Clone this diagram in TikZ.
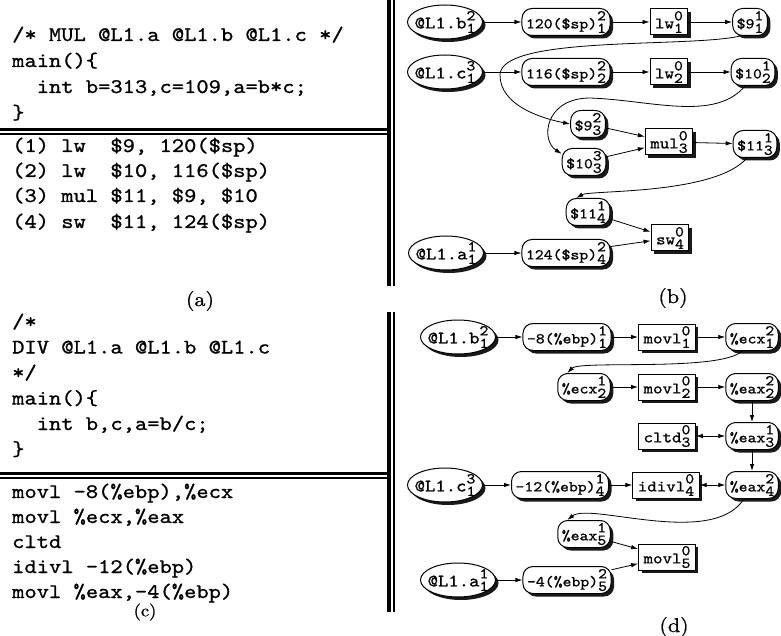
\documentclass[tikz,border=0pt]{standalone}
\usepackage{fontspec}
\newfontfamily\codefont[FakeStretch=1.13,FakeBold=1.0]{lmmono10-regular.otf}
\newfontfamily\capfont[FakeStretch=1.1,FakeBold=0.8]{lmroman10-regular.otf}
\usetikzlibrary{shapes.geometric,shadows,arrows.meta}
\newcommand\supf{\codefont\fontsize{15}{15}\selectfont}
\newcommand\lab[3]{#1\makebox[0pt][l]{\raisebox{8pt}{\supf #2}}\raisebox{-4.5pt}{\supf #3}}
\newcommand\el[3]{\makebox[0pt]{\lab{#1}{#2}{#3}}}
\tikzset{
  shd/.style={drop shadow={shadow xshift=3pt, shadow yshift=-3pt, fill=black, opacity=0.9}},
  ell/.style={ellipse, draw, fill=white, line width=1pt, minimum width=75pt, minimum height=34pt, inner sep=0pt, shd, font=\codefont\fontsize{17.5}{17.5}\selectfont},
  rnd/.style={rectangle, rounded corners=10pt, draw, fill=white, line width=1pt, inner xsep=4pt, inner ysep=1pt, minimum height=27pt, shd, font=\codefont\fontsize{15}{15}\selectfont},
  sqbox/.style={rectangle, draw, fill=white, line width=1pt, inner xsep=5pt, inner ysep=1pt, minimum height=26pt, shd, font=\codefont\fontsize{16}{16}\selectfont},
  codeline/.style={anchor=base west, inner sep=0pt, font=\codefont\fontsize{20.7}{25}\selectfont},
  captxt/.style={inner sep=0pt, font=\capfont\fontsize{20}{20}\selectfont},
  arr/.style={-{Latex[length=7pt,width=4.5pt]}, line width=0.8pt},
  darr/.style={{Latex[length=7pt,width=4.5pt]}-{Latex[length=7pt,width=4.5pt]}, line width=0.8pt},
}
\begin{document}
\begin{tikzpicture}[x=1pt,y=-1pt]
\useasboundingbox (0,0) rectangle (781,636);
% separators
\draw[line width=4pt] (389,0) -- (389,286);
\draw[line width=2pt] (393.5,0) -- (393.5,286);
\draw[line width=4pt] (389,312) -- (389,612);
\draw[line width=2pt] (393.5,312) -- (393.5,612);
\draw[line width=3pt] (0,129.5) -- (388,129.5);
\draw[line width=2pt] (0,134) -- (388,134);
\draw[line width=3pt] (0,473) -- (388,473);
\draw[line width=2pt] (0,477.5) -- (388,477.5);
% (a)
\node[codeline] (a1) at (12,41) {/* MUL @L1.a @L1.b @L1.c */};
\node[codeline] (a2) at (12,67) {main()\{};
\node[codeline] (a3) at (12,93) {\ \ int b=313,c=109,a=b*c;};
\node[codeline] (a4) at (12,119) {\}};
\node[codeline] (a5) at (12,152) {(1) lw\ \ \$9, 120(\$sp)};
\node[codeline] (a6) at (12,177) {(2) lw\ \ \$10, 116(\$sp)};
\node[codeline] (a7) at (12,202) {(3) mul \$11, \$9, \$10};
\node[codeline] (a8) at (12,228) {(4) sw\ \ \$11, 124(\$sp)};
\node[captxt] (capa) at (200,301) {(a)};
% (c)
\node[codeline] (c1) at (12,328) {/*};
\node[codeline] (c2) at (12,353.5) {DIV @L1.a @L1.b @L1.c};
\node[codeline] (c3) at (12,379) {*/};
\node[codeline] (c4) at (12,404.5) {main()\{};
\node[codeline] (c5) at (12,430) {\ \ int b,c,a=b/c;};
\node[codeline] (c6) at (12,455.5) {\}};
\node[codeline] (c7) at (12,498) {movl -8(\%ebp),\%ecx};
\node[codeline] (c8) at (12,523) {movl \%ecx,\%eax};
\node[codeline] (c9) at (12,548) {cltd};
\node[codeline] (c10) at (12,573) {idivl -12(\%ebp)};
\node[codeline] (c11) at (12,598) {movl \%eax,-4(\%ebp)};
\node[captxt, font=\capfont\fontsize{17}{17}\selectfont] (capc) at (145,612) {(c)};
% (b)
\node[ell] (b1) at (445,22) {\el{@L1.b}{2}{1}};
\node[rnd] (r120) at (566,22) {\lab{120(\$sp)}{2}{1}};
\node[sqbox] (lw1) at (669,22) {\lab{lw}{0}{1}};
\node[rnd] (s9a) at (750,22) {\lab{\$9}{1}{1}};
\node[ell] (c1n) at (445,72) {\el{@L1.c}{3}{1}};
\node[rnd] (r116) at (566,72) {\lab{116(\$sp)}{2}{2}};
\node[sqbox] (lw2) at (669,72) {\lab{lw}{0}{2}};
\node[rnd] (s10a) at (753,72) {\lab{\$10}{1}{2}};
\node[rnd] (s9b) at (588,124) {\lab{\$9}{2}{3}};
\node[sqbox] (mul) at (669,142) {\lab{mul}{0}{3}};
\node[rnd] (s11a) at (755,144) {\lab{\$11}{1}{3}};
\node[rnd] (s10b) at (584,162) {\lab{\$10}{3}{3}};
\node[rnd] (s11b) at (588,212) {\lab{\$11}{1}{4}};
\node[sqbox] (sw) at (670,238) {\lab{sw}{0}{4}};
\node[ell] (a1n) at (446,253) {\el{@L1.a}{1}{1}};
\node[rnd] (r124) at (566,253) {\lab{124(\$sp)}{2}{4}};
\node[captxt] (capb) at (673,298) {(b)};
\draw[arr] (b1) -- (r120);
\draw[arr] (r120) -- (lw1);
\draw[arr] (lw1) -- (s9a);
\draw[arr] (c1n) -- (r116);
\draw[arr] (r116) -- (lw2);
\draw[arr] (lw2) -- (s10a);
\draw[arr] (s9b) -- (mul);
\draw[arr] (s10b) -- (mul);
\draw[arr] (mul) -- (s11a);
\draw[arr] (s11b) -- (sw);
\draw[arr] (r124) -- (sw);
\draw[arr] (a1n) -- (r124);
\draw[arr] (s9a.235) .. controls (690,48) and (500,35) .. (500,75) .. controls (500,105) and (540,118) .. (s9b.west);
\draw[arr] (s10a.240) .. controls (715,122) and (650,100) .. (590,98) .. controls (545,98) and (540,140) .. (s10b.160);
\draw[arr] (s11a.240) .. controls (715,195) and (590,190) .. (s11b.130);
% (d)
\node[ell] (db) at (458,337) {\el{@L1.b}{2}{1}};
\node[rnd] (d8) at (567,337) {\lab{-8(\%ebp)}{1}{1}};
\node[sqbox] (dm1) at (667,337) {\lab{movl}{0}{1}};
\node[rnd] (decx1) at (752,337) {\lab{\%ecx}{2}{1}};
\node[rnd] (decx2) at (584,387) {\lab{\%ecx}{1}{2}};
\node[sqbox] (dm2) at (667,387) {\lab{movl}{0}{2}};
\node[rnd] (deax2) at (752,387) {\lab{\%eax}{2}{2}};
\node[sqbox] (dcltd) at (667,436) {\lab{cltd}{0}{3}};
\node[rnd] (deax3) at (752,436) {\lab{\%eax}{1}{3}};
\node[ell] (dc) at (445,485) {\el{@L1.c}{3}{1}};
\node[rnd] (d12) at (560,485) {\lab{-12(\%ebp)}{1}{4}};
\node[sqbox] (didiv) at (666,485) {\lab{idivl}{0}{4}};
\node[rnd] (deax4) at (752,485) {\lab{\%eax}{2}{4}};
\node[rnd] (deax5) at (584,534) {\lab{\%eax}{1}{5}};
\node[sqbox] (dm5) at (667,557) {\lab{movl}{0}{5}};
\node[ell] (da) at (458,580) {\el{@L1.a}{1}{1}};
\node[rnd] (d4) at (567,580) {\lab{-4(\%ebp)}{2}{5}};
\node[captxt] (capd) at (674,627) {(d)};
\draw[arr] (db) -- (d8);
\draw[arr] (d8) -- (dm1);
\draw[arr] (dm1) -- (decx1);
\draw[arr] (decx1.235) .. controls (720,372) and (580,360) .. (decx2.140);
\draw[arr] (decx2) -- (dm2);
\draw[arr] (dm2) -- (deax2);
\draw[arr] (deax2) -- (deax3);
\draw[darr] (dcltd) -- (deax3);
\draw[arr] (deax3) -- (deax4);
\draw[arr] (dc) -- (d12);
\draw[arr] (d12) -- (didiv);
\draw[darr] (didiv) -- (deax4);
\draw[arr] (deax4.240) .. controls (712,548) and (590,502) .. (deax5.140);
\draw[arr] (deax5) -- (dm5);
\draw[arr] (d4) -- (dm5);
\draw[arr] (da) -- (d4);
\end{tikzpicture}
\end{document}
